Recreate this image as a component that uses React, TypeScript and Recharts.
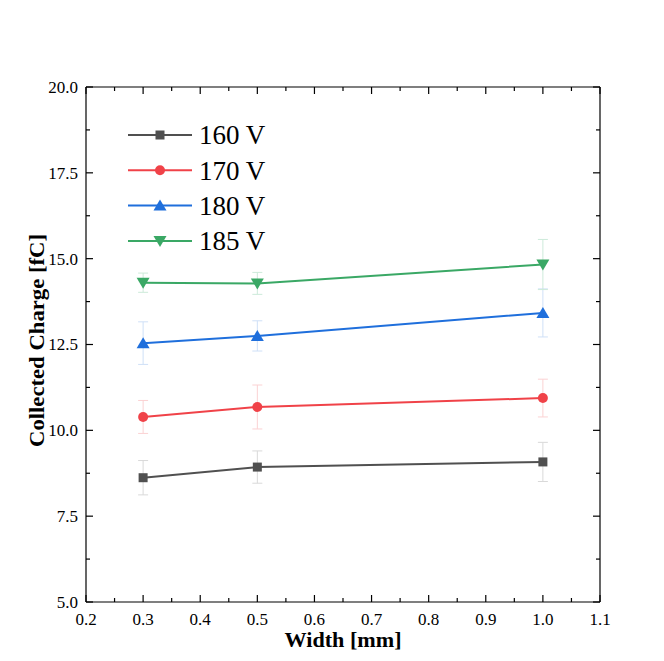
import { LineChart, Line, XAxis, YAxis, ErrorBar, Legend, Label } from 'recharts'

const widths = [0.3, 0.5, 1.0]
const seriesNames = ['160 V', '170 V', '180 V', '185 V']
const seriesKeys = ['v160', 'v170', 'v180', 'v185']
const seriesColors = ['#505050', '#f04248', '#1f6fdc', '#3aa865']
const errorColors = ['#d9d9d9', '#fbd2d3', '#cfe0f7', '#cdeada']
const seriesShapes = ['square', 'circle', 'up', 'down']

const charge160 = [8.62, 8.93, 9.08]
const charge170 = [10.39, 10.68, 10.94]
const charge180 = [12.54, 12.75, 13.42]
const charge185 = [14.3, 14.28, 14.83]

const err160 = [0.5, 0.47, 0.57]
const err170 = [0.48, 0.64, 0.55]
const err180 = [0.62, 0.44, 0.7]
const err185 = [0.28, 0.32, 0.73]

const xTicks = [0.2, 0.25, 0.3, 0.35, 0.4, 0.45, 0.5, 0.55, 0.6, 0.65, 0.7, 0.75, 0.8, 0.85, 0.9, 0.95, 1.0, 1.05, 1.1]
const yTicks = [5, 6.25, 7.5, 8.75, 10, 11.25, 12.5, 13.75, 15, 16.25, 17.5, 18.75, 20]

const charges = [charge160, charge170, charge180, charge185]
const errors = [err160, err170, err180, err185]

const data = widths.map((w, i) => {
  const row: Record<string, number> = { w }
  seriesKeys.forEach((k, s) => {
    row[k] = charges[s][i]
    row[k + 'e'] = errors[s][i]
  })
  return row
})

const FONT = '"Liberation Serif", "Times New Roman", serif'
const tickText = { fontFamily: FONT, fontSize: 17, fill: '#000' }
const MAJOR = 7
const MINOR = 4
const GAP = 4

const isMajorX = (v: number) => Math.round(v * 100) % 10 === 0
const isMajorY = (v: number) => Math.round(v * 100) % 250 === 0

function Marker({ shape, cx, cy, color }: any) {
  if (shape === 'square') return <rect x={cx - 4.5} y={cy - 4.5} width={9} height={9} fill={color} />
  if (shape === 'circle') return <circle cx={cx} cy={cy} r={5} fill={color} />
  if (shape === 'up') return <polygon points={`${cx},${cy - 6} ${cx - 6.5},${cy + 5} ${cx + 6.5},${cy + 5}`} fill={color} />
  return <polygon points={`${cx},${cy + 6} ${cx - 6.5},${cy - 5} ${cx + 6.5},${cy - 5}`} fill={color} />
}

function BottomTick({ x, y, payload }: any) {
  const v = payload.value
  const major = isMajorX(v)
  const ay = y - GAP
  return (
    <g>
      <line x1={x} x2={x} y1={ay} y2={ay - (major ? MAJOR : MINOR)} stroke="#000" strokeWidth={1.2} />
      {major && (
        <text x={x} y={ay + 23} textAnchor="middle" style={tickText}>
          {v.toFixed(1)}
        </text>
      )}
    </g>
  )
}

function TopTick({ x, y, payload }: any) {
  const major = isMajorX(payload.value)
  const ay = y + GAP
  return <line x1={x} x2={x} y1={ay} y2={ay + (major ? MAJOR : MINOR)} stroke="#000" strokeWidth={1.2} />
}

function LeftTick({ x, y, payload }: any) {
  const v = payload.value
  const major = isMajorY(v)
  const ax = x + GAP
  return (
    <g>
      <line x1={ax} x2={ax + (major ? MAJOR : MINOR)} y1={y} y2={y} stroke="#000" strokeWidth={1.2} />
      {major && (
        <text x={ax - 8} y={y} dy="0.35em" textAnchor="end" style={tickText}>
          {v.toFixed(1)}
        </text>
      )}
    </g>
  )
}

function RightTick({ x, y, payload }: any) {
  const major = isMajorY(payload.value)
  const ax = x - GAP
  return <line x1={ax} x2={ax - (major ? MAJOR : MINOR)} y1={y} y2={y} stroke="#000" strokeWidth={1.2} />
}

function LegendBox() {
  return (
    <svg width={160} height={150}>
      {seriesNames.map((name, i) => {
        const cy = 17 + i * 35.3
        return (
          <g key={name}>
            <line x1={0} x2={64} y1={cy} y2={cy} stroke={seriesColors[i]} strokeWidth={2} />
            <Marker shape={seriesShapes[i]} cx={32} cy={cy} color={seriesColors[i]} />
            <text x={71} y={cy} dy="0.35em" fontSize={27} fontFamily={FONT} fill="#000">
              {name}
            </text>
          </g>
        )
      })}
    </svg>
  )
}

export default function App() {
  return (
    <div style={{ position: 'absolute', left: 0, top: 0, width: 664, height: 661, background: '#fff' }}>
      <LineChart width={664} height={661} data={data} margin={{ top: 77, right: 54, bottom: 19, left: 26 }}>
        <XAxis
          dataKey="w"
          type="number"
          domain={[0.2, 1.1]}
          allowDataOverflow
          ticks={xTicks}
          interval={0}
          height={40}
          tickSize={0}
          tickMargin={GAP}
          tickLine={false}
          tick={<BottomTick />}
          axisLine={{ stroke: '#000', strokeWidth: 1.2 }}
        >
          <Label
            content={({ viewBox }: any) => (
              <text
                x={viewBox.x + viewBox.width / 2}
                y={viewBox.y + 45}
                textAnchor="middle"
                fontSize={21}
                fontWeight="bold"
                fontFamily={FONT}
                fill="#000"
                textLength={117}
                lengthAdjust="spacingAndGlyphs"
              >
                Width [mm]
              </text>
            )}
          />
        </XAxis>
        <XAxis
          xAxisId="top"
          dataKey="w"
          orientation="top"
          type="number"
          domain={[0.2, 1.1]}
          allowDataOverflow
          ticks={xTicks}
          interval={0}
          height={10}
          tickSize={0}
          tickMargin={GAP}
          tickLine={false}
          tick={<TopTick />}
          axisLine={{ stroke: '#000', strokeWidth: 1.2 }}
        />
        <YAxis
          type="number"
          domain={[5, 20]}
          allowDataOverflow
          ticks={yTicks}
          interval={0}
          width={60}
          tickSize={0}
          tickMargin={GAP}
          tickLine={false}
          tick={<LeftTick />}
          axisLine={{ stroke: '#000', strokeWidth: 1.2 }}
        >
          <Label
            content={({ viewBox }: any) => {
              const cy = viewBox.y + viewBox.height / 2 - 4
              return (
                <text
                  x={37}
                  y={cy}
                  transform={`rotate(-90, 37, ${cy})`}
                  textAnchor="middle"
                  dominantBaseline="central"
                  fontSize={21}
                  fontWeight="bold"
                  fontFamily={FONT}
                  fill="#000"
                  textLength={213}
                  lengthAdjust="spacingAndGlyphs"
                >
                  Collected Charge [fC]
                </text>
              )
            }}
          />
        </YAxis>
        <YAxis
          yAxisId="right"
          orientation="right"
          type="number"
          domain={[5, 20]}
          allowDataOverflow
          ticks={yTicks}
          interval={0}
          width={10}
          tickSize={0}
          tickMargin={GAP}
          tickLine={false}
          tick={<RightTick />}
          axisLine={{ stroke: '#000', strokeWidth: 1.2 }}
        />
        <Legend
          layout="vertical"
          align="center"
          verticalAlign="middle"
          wrapperStyle={{ left: 128, top: 118, width: 160, height: 150 }}
          content={() => <LegendBox />}
        />
        <Line
          xAxisId="top"
          yAxisId="right"
          dataKey="v160"
          stroke="none"
          dot={false}
          activeDot={false}
          legendType="none"
          isAnimationActive={false}
        />
        {seriesKeys.map((k, i) => (
          <Line
            key={k}
            dataKey={k}
            name={seriesNames[i]}
            stroke={seriesColors[i]}
            strokeWidth={2}
            isAnimationActive={false}
            dot={(p: any) => <Marker key={k + p.index} shape={seriesShapes[i]} cx={p.cx} cy={p.cy} color={seriesColors[i]} />}
            activeDot={false}
          >
            <ErrorBar dataKey={k + 'e'} direction="y" width={5} stroke={errorColors[i]} strokeWidth={1} isAnimationActive={false} />
          </Line>
        ))}
      </LineChart>
    </div>
  )
}
